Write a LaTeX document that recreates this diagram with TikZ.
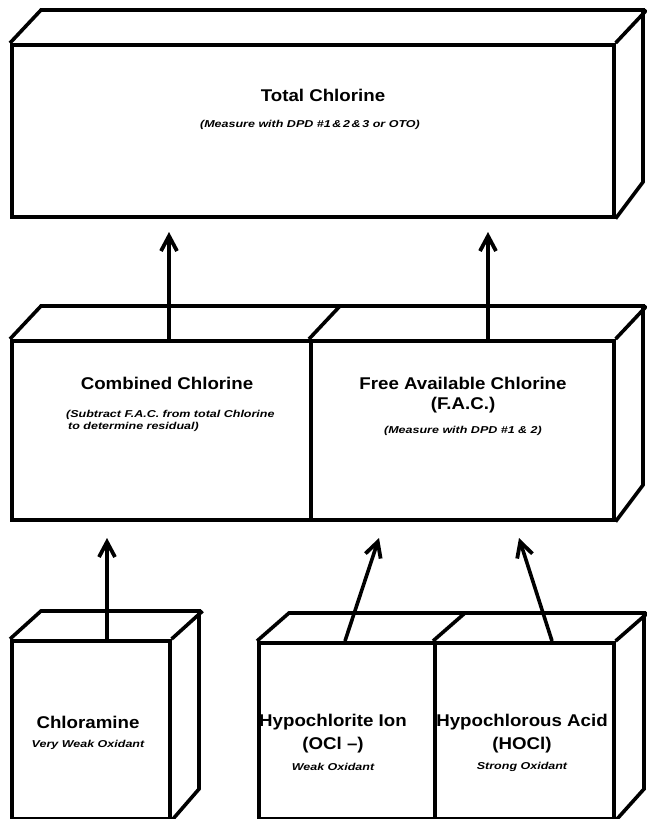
\documentclass[tikz,border=0pt]{standalone}
\usepackage{fontspec}
\setmainfont{Liberation Sans}
\newfontfamily\ttlfont[FakeStretch=1.1]{Liberation Sans}
\newfontfamily\subfnt[FakeStretch=1.25]{Liberation Sans}
\usetikzlibrary{arrows.meta}
\begin{document}
\begin{tikzpicture}[x=1pt,y=-1pt,
  edge/.style={line width=3.6pt, line join=miter},
  face/.style={draw, line width=3.6pt, inner sep=0pt, anchor=north west},
  ttl/.style={font=\ttlfont\bfseries\fontsize{17}{20}\selectfont, inner sep=0pt},
  sub/.style={font=\subfnt\bfseries\itshape\fontsize{10}{12}\selectfont, inner sep=0pt},
  up/.style={line width=3.6pt, -{Straight Barb[length=15pt,width=16pt,line width=3.8pt]}},
]
\useasboundingbox (0,0) rectangle (646,819);

% ---- Top box: Total Chlorine
\node[face, minimum width=602pt, minimum height=172pt] (tot) at (10,43) {};
\draw[edge] (tot.north west) -- ++(31,-33) -- ++(602,0) -- ++(0,172) -- (tot.south east);
\draw[edge] (tot.north east) -- ++(31,-33);
\node[ttl] (totT) at (323,95) {Total Chlorine};
\node[sub] (totS) at (310,125) {(Measure with DPD \#1\,\&\,2\,\&\,3 or OTO)};

% ---- Middle box
\node[face, minimum width=299pt, minimum height=179pt] (comb) at (10,339) {};
\node[face, minimum width=303pt, minimum height=179pt] (fac) at (309,339) {};
\draw[edge] (comb.north west) -- ++(31,-33) -- ++(602,0) -- ++(0,179) -- (fac.south east);
\draw[edge] (fac.north east) -- ++(31,-33);
\draw[edge] (fac.north west) -- ++(31,-33);
\node[ttl] (combT) at (167,383) {Combined Chlorine};
\node[sub, anchor=west] (combS1) at (66,415) {(Subtract F.A.C. from total Chlorine};
\node[sub, anchor=west] (combS2) at (68,427) {to determine residual)};
\node[ttl] (facT) at (463,383) {Free Available Chlorine};
\node[ttl] (facT2) at (463,405) {(F.A.C.)};
\node[sub] (facS) at (463,431) {(Measure with DPD \#1 \& 2)};

% ---- Chloramine box
\node[face, minimum width=158pt, minimum height=178pt] (cl) at (10,639) {};
\draw[edge] (cl.north west) -- ++(31,-28) -- ++(158,0) -- ++(0,178) -- (cl.south east);
\draw[edge] (cl.north east) -- ++(31,-28);
\node[ttl] (clT) at (88,722) {Chloramine};
\node[sub] (clS) at (88,745) {Very Weak Oxidant};

% ---- Hypochlorite / Hypochlorous box
\node[face, minimum width=176pt, minimum height=176pt] (hypo) at (257,641) {};
\node[face, minimum width=179pt, minimum height=176pt] (hocl) at (433,641) {};
\draw[edge] (hypo.north west) -- ++(32,-28) -- ++(355,0) -- ++(0,176) -- (hocl.south east);
\draw[edge] (hocl.north east) -- ++(32,-28);
\draw[edge] (hocl.north west) -- ++(32,-28);
\node[ttl] (hypoT) at (333,722) {Hypochlorite Ion};
\node[ttl] (hypoT2) at (333,745) {(OCl –)};
\node[sub] (hypoS) at (333,767) {Weak Oxidant};
\node[ttl] (hoclT) at (522,722) {Hypochlorous Acid};
\node[ttl] (hoclT2) at (522,745) {(HOCl)};
\node[sub] (hoclS) at (522,767) {Strong Oxidant};

% ---- Arrows
\coordinate (t1) at (169,232);
\coordinate (t2) at (488,232);
\coordinate (t3) at (107,538);
\coordinate (t4) at (379,538);
\coordinate (t5) at (519,538);
\draw[up] (t1 |- comb.north) -- (t1);
\draw[up] (t2 |- fac.north) -- (t2);
\draw[up] (t3 |- cl.north) -- (t3);
\draw[up] ([xshift=88pt]hypo.north west) -- (t4);
\draw[up] ([xshift=119pt]hocl.north west) -- (t5);
\end{tikzpicture}
\end{document}
